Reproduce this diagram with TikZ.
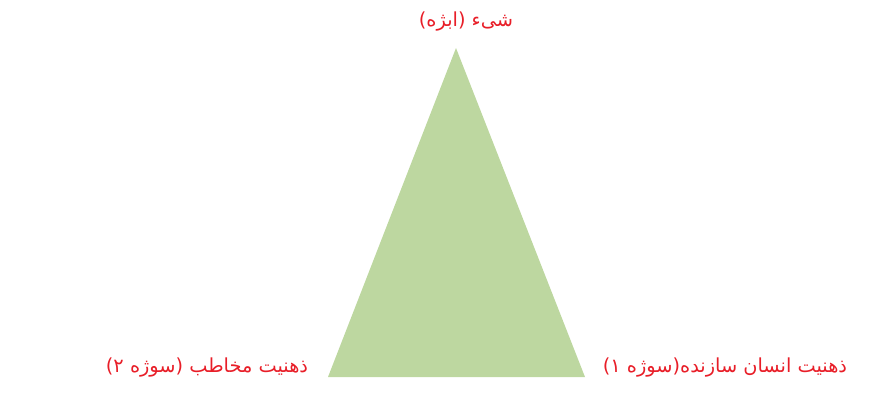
\documentclass[tikz,border=0pt]{standalone}
\usepackage{fontspec}
\newfontfamily\arabicfont[Script=Arabic]{DejaVu Sans}
\TeXXeTstate=1
\definecolor{triGreen}{RGB}{189,215,160}
\definecolor{labRed}{RGB}{232,30,40}

\begin{document}
\begin{tikzpicture}[x=0.2mm,y=0.2mm,
  tri/.style={fill=triGreen,draw=none},
  lab/.style={font=\arabicfont\fontsize{11}{13}\selectfont,text=labRed,inner sep=1pt}]
  \useasboundingbox (0,0) rectangle (878,394);
  % triangle corners
  \coordinate (apex) at (456,346); \coordinate (bl) at (328,17); \coordinate (br) at (585,17);
  \fill[tri] (apex)--(bl)--(br)--cycle;
  % labels
  \node[lab] (obj) at (466,372) {\beginR شیء (ابژه)\endR};
  \node[lab] (sub2) at (207,26) {\beginR ذهنیت مخاطب (سوژه ۲)\endR};
  \node[lab] (sub1) at (725,26) {\beginR ذهنیت انسان سازنده(سوژه ۱)\endR};
\end{tikzpicture}
\end{document}
